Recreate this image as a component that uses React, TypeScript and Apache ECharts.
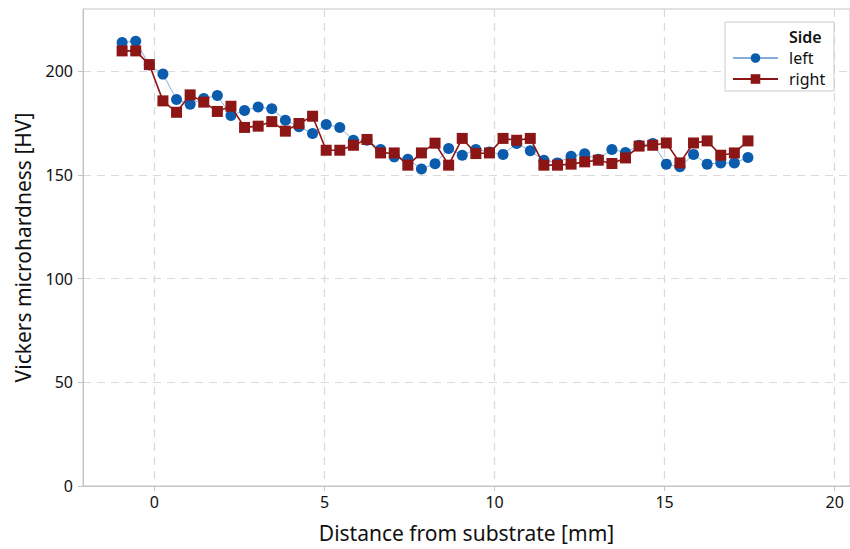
import React, { useEffect, useRef } from "react";
import * as echarts from "echarts";

const distanceMm = [
  -0.95, -0.55, -0.15, 0.25, 0.65, 1.05, 1.45, 1.85, 2.25, 2.65, 3.05, 3.45,
  3.85, 4.25, 4.65, 5.05, 5.45, 5.85, 6.25, 6.65, 7.05, 7.45, 7.85, 8.25,
  8.65, 9.05, 9.45, 9.85, 10.25, 10.65, 11.05, 11.45, 11.85, 12.25, 12.65,
  13.05, 13.45, 13.85, 14.25, 14.65, 15.05, 15.45, 15.85, 16.25, 16.65,
  17.05, 17.45,
];

const leftHV = [
  213.9, 214.5, 203.0, 198.6, 186.4, 184.1, 186.8, 188.3, 178.7, 181.1, 182.7,
  181.9, 176.4, 173.2, 170.0, 174.3, 172.9, 166.7, 166.7, 162.3, 158.7, 157.6,
  152.9, 155.4, 162.7, 159.5, 162.3, 161.0, 159.9, 165.2, 161.6, 157.1, 155.8,
  159.0, 160.2, 157.5, 162.3, 160.8, 164.3, 165.2, 155.2, 153.9, 159.9, 155.2,
  155.8, 155.8, 158.4,
];

const rightHV = [
  209.8, 209.8, 203.2, 185.7, 180.2, 188.6, 185.1, 180.6, 183.1, 172.9, 173.5,
  175.7, 171.1, 174.8, 178.3, 161.9, 161.9, 164.3, 167.1, 160.6, 160.6, 154.7,
  160.6, 165.3, 154.7, 167.6, 160.3, 160.6, 167.6, 166.7, 167.6, 154.7, 154.7,
  155.2, 156.3, 157.1, 155.5, 158.2, 163.9, 164.3, 165.4, 155.8, 165.4, 166.4,
  159.5, 160.6, 166.4,
];

const xTicks = [0, 5, 10, 15, 20];
const yTicks = [0, 50, 100, 150, 200];
const seriesNames = ["left", "right"];

const FONT = "'Noto Sans', 'Open Sans', sans-serif";

export default function App() {
  const ref = useRef<HTMLDivElement>(null);

  useEffect(() => {
    if (!ref.current) return;
    const chart = echarts.init(ref.current, null, { renderer: "svg" });
    const gridColor = "#dadada";
    const axisColor = "#c4c4c4";
    const leftData = distanceMm.map((x, i) => [x, leftHV[i]]);
    const rightData = distanceMm.map((x, i) => [x, rightHV[i]]);

    chart.setOption({
      animation: false,
      backgroundColor: "#ffffff",
      textStyle: { fontFamily: FONT },
      grid: {
        left: 83,
        top: 9,
        width: 770,
        height: 477,
        show: true,
        borderColor: axisColor,
        borderWidth: 1,
        backgroundColor: "transparent",
      },
      xAxis: {
        type: "value",
        min: -2.1,
        max: 20.45,
        name: "Distance from substrate [mm]",
        nameLocation: "middle",
        nameGap: 36,
        nameTextStyle: { fontSize: 21, color: "#111111", fontFamily: FONT },
        axisLine: { show: true, onZero: false, lineStyle: { color: axisColor } },
        axisTick: {
          show: true,
          length: 5,
          customValues: xTicks,
          lineStyle: { color: axisColor },
        },
        axisLabel: {
          customValues: xTicks,
          fontSize: 16,
          color: "#111111",
          margin: 8,
          fontFamily: FONT,
        },
        splitLine: {
          show: true,
          lineStyle: { color: gridColor, type: [8, 6], width: 1.2 },
        },
        interval: 5,
      },
      yAxis: {
        type: "value",
        min: 0,
        max: 230,
        interval: 50,
        name: "Vickers microhardness [HV]",
        nameLocation: "middle",
        nameGap: 50,
        nameTextStyle: { fontSize: 21, color: "#111111", fontFamily: FONT },
        axisLine: { show: true, onZero: false, lineStyle: { color: axisColor } },
        axisTick: {
          show: true,
          length: 5,
          customValues: yTicks,
          lineStyle: { color: axisColor },
        },
        axisLabel: {
          customValues: yTicks,
          fontSize: 16,
          color: "#111111",
          margin: 10,
          fontFamily: FONT,
        },
        splitLine: {
          show: true,
          lineStyle: { color: gridColor, type: [8, 6], width: 1.2 },
        },
      },
      legend: {
        data: seriesNames,
        orient: "vertical",
        left: 732,
        top: 50,
        padding: 0,
        itemWidth: 45,
        itemHeight: 12,
        itemGap: 5,
        textStyle: {
          fontSize: 16,
          lineHeight: 16,
          color: "#111111",
          padding: [0, 0, 0, 6],
          fontFamily: FONT,
        },
      },
      graphic: [
        {
          type: "rect",
          z: 3,
          shape: { x: 725, y: 22, width: 109, height: 69 },
          style: { fill: "#ffffff", stroke: "#cccccc", lineWidth: 1 },
        },
        {
          type: "text",
          z: 4,
          x: 789,
          y: 37,
          style: {
            text: "Side",
            fontSize: 16,
            lineHeight: 16,
            fontWeight: 600,
            fill: "#111111",
            fontFamily: FONT,
            verticalAlign: "middle",
          },
        },
      ],
      series: [
        {
          name: "left",
          type: "line",
          data: leftData,
          symbol: "circle",
          symbolSize: 11,
          itemStyle: { color: "#0b5cad" },
          lineStyle: { color: "#86aedb", width: 1 },
          z: 3,
        },
        {
          name: "right",
          type: "line",
          data: rightData,
          symbol: "rect",
          symbolSize: 11,
          itemStyle: { color: "#8c1515" },
          lineStyle: { color: "#8c1515", width: 1.6 },
          z: 4,
        },
      ],
    });
    return () => chart.dispose();
  }, []);

  return (
    <div
      ref={ref}
      style={{ position: "fixed", left: 0, top: 0, width: 850, height: 549 }}
    />
  );
}
